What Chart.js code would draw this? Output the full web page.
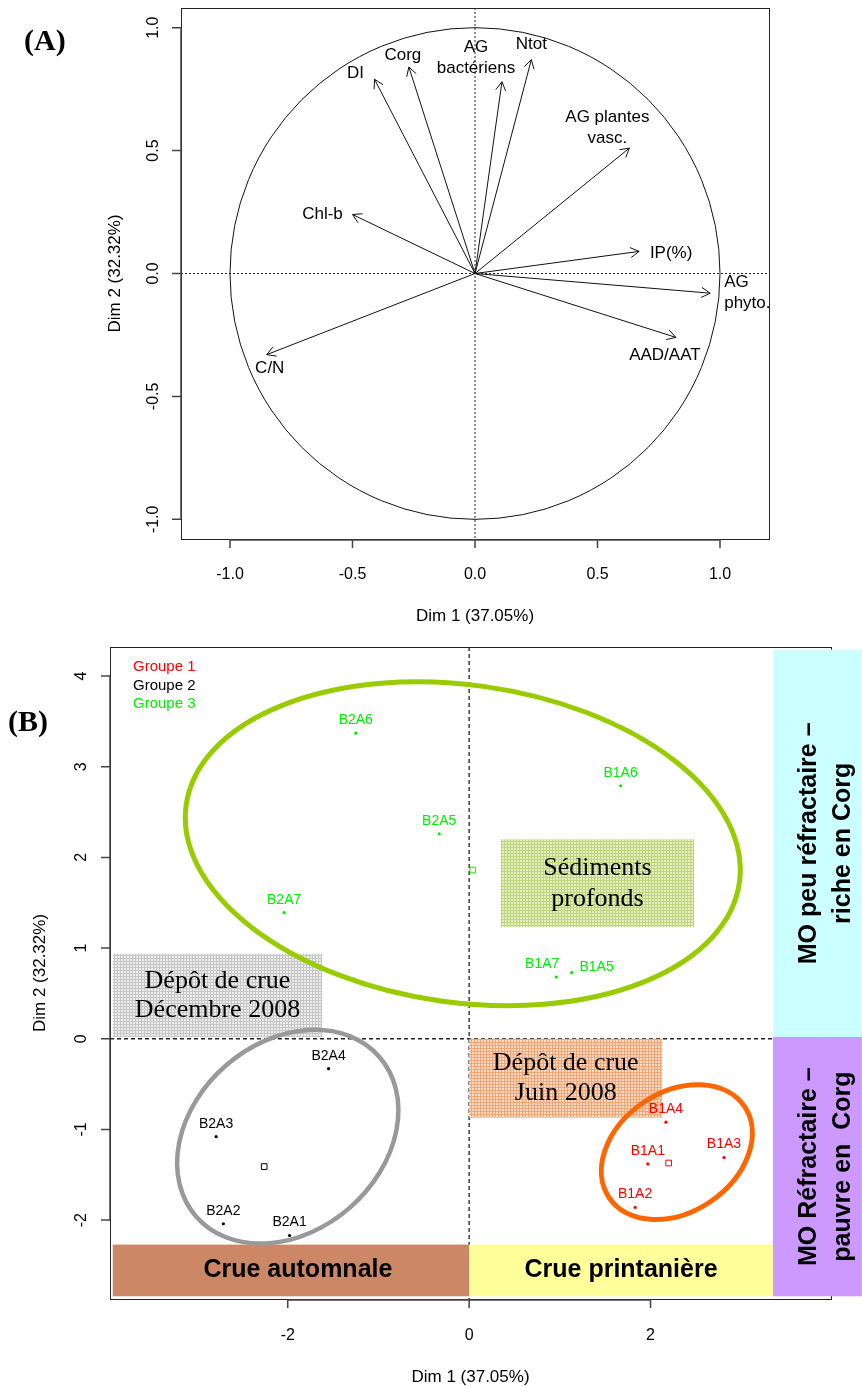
<!DOCTYPE html>
<html>
<head>
<meta charset="utf-8">
<script src="https://cdn.jsdelivr.net/npm/chart.js@4.4.0/dist/chart.umd.min.js"></script>
<style>
  body { margin: 0; background: #fff; }
  #wrap { position: relative; width: 862px; height: 1387px; }
  canvas { position: absolute; left: 0; }
  #chartA { top: 0; }
  #chartB { top: 640px; }
</style>
</head>
<body>
<div id="wrap">
  <canvas id="chartA" width="862" height="640"></canvas>
  <canvas id="chartB" width="862" height="747"></canvas>
</div>
<script>
// ---- (A) correlation circle ----
const varLabels = [['DI'], ['Corg'], ['AG', 'bactériens'], ['Ntot'], ['AG plantes', 'vasc.'], ['IP(%)'], ['AG', 'phyto.'], ['AAD/AAT'], ['Chl-b'], ['C/N']];
const varDim1 = [-0.41, -0.27, 0.11, 0.23, 0.63, 0.67, 0.96, 0.82, -0.50, -0.85];
const varDim2 = [0.79, 0.84, 0.78, 0.87, 0.51, 0.09, -0.08, -0.26, 0.24, -0.33];
const ticksA = [-1.0, -0.5, 0.0, 0.5, 1.0];

// ---- (B) individuals ----
const groupNames = ['Groupe 1', 'Groupe 2', 'Groupe 3'];
const g1Names = ['B1A1', 'B1A2', 'B1A3', 'B1A4'];
const g1Dim1 = [1.97, 1.83, 2.81, 2.17];
const g1Dim2 = [-1.38, -1.86, -1.31, -0.92];
const g2Names = ['B2A1', 'B2A2', 'B2A3', 'B2A4'];
const g2Dim1 = [-1.98, -2.71, -2.79, -1.55];
const g2Dim2 = [-2.17, -2.04, -1.08, -0.33];
const g3Names = ['B1A5', 'B1A6', 'B1A7', 'B2A5', 'B2A6', 'B2A7'];
const g3Dim1 = [1.13, 1.67, 0.96, -0.33, -1.25, -2.04];
const g3Dim2 = [0.73, 2.79, 0.68, 2.26, 3.37, 1.39];
const centroidDim1 = [2.20, -2.26, 0.04];
const centroidDim2 = [-1.37, -1.41, 1.86];
// confidence ellipses: centre, half axes, angle (degrees)
const ellipseDim1 = [2.29, -2.00, -0.07];
const ellipseDim2 = [-1.25, -1.08, 2.15];
const ellipseMajor = [0.90, 1.34, 3.08];
const ellipseMinor = [0.66, 1.04, 1.75];
const ellipseAngle = [34, 41, -8];
const ticksBx = [-2, 0, 2];
const ticksBy = [-2, -1, 0, 1, 2, 3, 4];

const zoneLabels = [['Dépôt de crue', 'Décembre 2008'], ['Sédiments', 'profonds'], ['Dépôt de crue', 'Juin 2008'],
  ['Crue automnale'], ['Crue printanière'], ['MO peu réfractaire –', 'riche en Corg'], ['MO Réfractaire –', 'pauvre en  Corg']];

// ---- styling / layout ----
const SANS = '"Liberation Sans", Arial, sans-serif';
const SERIF = '"Liberation Serif", "Times New Roman", serif';
const groupColors = ['#ff0000', '#000000', '#00ee00'];
const ellipseColors = ['#ff6600', '#999999', '#99cc00'];
const ellipseWidths = [5, 4.5, 5];
// label offsets from arrow tip in px: dx, dy, align
const arrowLabelPos = [[-19, -6, 'center'], [-6, -12, 'center'], [-26, -24, 'center'], [0, -15, 'center'],
  [-22, -20, 'center'], [32, 2, 'center'], [14, 0, 'left'], [-11, 18, 'center'], [-30, 0, 'center'], [3, 14, 'center']];
// point label offsets (px) where labels were pushed apart, keyed by name
const pointLabelShift = { B1A7: [-14, -13], B1A5: [25, -5] };
// zones in data units [x0, x1, y0, y1]
const zones = [
  { box: [-3.93, -1.62, 0.02, 0.94], hatch: ['#ececec', '#c6c6c6'], font: '26px ' + SERIF, lh: 29 },
  { box: [0.35, 2.48, 1.23, 2.20], hatch: ['#e4eebe', '#bdd57c'], font: '26px ' + SERIF, lh: 31 },
  { box: [0.0, 2.13, -0.87, 0.0], hatch: ['#fbdac4', '#f2a676'], font: '26px ' + SERIF, lh: 30 },
  { box: [-3.93, 0.0, -2.84, -2.27], fill: '#cc8866', font: 'bold 25px ' + SANS, dx: 7 },
  { box: [0.0, 3.35, -2.84, -2.27], fill: '#ffff99', font: 'bold 25px ' + SANS },
  { box: [3.35, 4.33, 0.02, 4.29], fill: '#ccffff', font: 'bold 25px ' + SANS, lh: 34, dx: 9, vertical: true },
  { box: [3.35, 4.33, -2.84, 0.02], fill: '#cc99ff', font: 'bold 25px ' + SANS, lh: 34, dx: 9, vertical: true }
];

function drawRAxes(chart, o) {
  const { ctx, chartArea: a, scales: { x, y } } = chart;
  ctx.save();
  ctx.strokeStyle = '#222';
  ctx.lineWidth = 1;
  ctx.strokeRect(a.left + 0.5, a.top + 0.5, a.right - a.left, a.bottom - a.top);
  const xs = o.xTicks.map(v => x.getPixelForValue(v));
  const ys = o.yTicks.map(v => y.getPixelForValue(v));
  ctx.strokeStyle = '#444';
  ctx.lineWidth = 1.5;
  ctx.beginPath();
  ctx.moveTo(xs[0], a.bottom + 1); ctx.lineTo(xs[xs.length - 1], a.bottom + 1);
  xs.forEach(px => { ctx.moveTo(px, a.bottom); ctx.lineTo(px, a.bottom + 9); });
  ctx.moveTo(a.left, ys[0]); ctx.lineTo(a.left, ys[ys.length - 1]);
  ys.forEach(py => { ctx.moveTo(a.left, py); ctx.lineTo(a.left - 9, py); });
  ctx.stroke();
  ctx.fillStyle = '#000';
  ctx.font = '16px ' + SANS;
  ctx.textAlign = 'center';
  ctx.textBaseline = 'middle';
  o.xTicks.forEach((v, i) => ctx.fillText(o.fmt(v), xs[i], a.bottom + o.xGap));
  o.yTicks.forEach((v, i) => {
    ctx.save();
    ctx.translate(a.left - o.yGap, ys[i]);
    ctx.rotate(-Math.PI / 2);
    ctx.fillText(o.fmt(v), 0, 0);
    ctx.restore();
  });
  ctx.font = '17px ' + SANS;
  ctx.fillText('Dim 1 (37.05%)', (a.left + a.right) / 2, a.bottom + o.xTitle);
  ctx.save();
  ctx.translate(a.left - o.yTitle, (a.top + a.bottom) / 2);
  ctx.rotate(-Math.PI / 2);
  ctx.fillText('Dim 2 (32.32%)', 0, 0);
  ctx.restore();
  ctx.font = 'bold 30px ' + SERIF;
  ctx.textAlign = 'left';
  ctx.fillText(o.tag, o.tagX, o.tagY);
  ctx.restore();
}

function dottedCross(chart, dash, width) {
  const { ctx, chartArea: a, scales: { x, y } } = chart;
  const x0 = x.getPixelForValue(0), y0 = y.getPixelForValue(0);
  ctx.save();
  ctx.strokeStyle = '#222';
  ctx.lineWidth = width;
  ctx.setLineDash(dash);
  ctx.beginPath();
  ctx.moveTo(a.left, y0); ctx.lineTo(a.right, y0);
  ctx.moveTo(x0, a.top); ctx.lineTo(x0, a.bottom);
  ctx.stroke();
  ctx.restore();
}

// ---------- chart A ----------
const circlePlugin = {
  id: 'circleA',
  beforeDatasetsDraw(chart) {
    const { ctx, scales: { x, y } } = chart;
    dottedCross(chart, [2, 2], 1);
    const cx = x.getPixelForValue(0), cy = y.getPixelForValue(0);
    ctx.save();
    ctx.strokeStyle = '#111';
    ctx.lineWidth = 1;
    ctx.beginPath();
    ctx.ellipse(cx, cy, x.getPixelForValue(1) - cx, cy - y.getPixelForValue(1), 0, 0, Math.PI * 2);
    ctx.stroke();
    ctx.restore();
  },
  afterDatasetsDraw(chart) {
    const { ctx, scales: { x, y } } = chart;
    const ox = x.getPixelForValue(0), oy = y.getPixelForValue(0);
    ctx.save();
    ctx.strokeStyle = '#111';
    ctx.fillStyle = '#000';
    ctx.lineWidth = 1;
    ctx.font = '17px ' + SANS;
    ctx.textBaseline = 'middle';
    varDim1.forEach((v, i) => {
      const tx = x.getPixelForValue(v), ty = y.getPixelForValue(varDim2[i]);
      const ang = Math.atan2(ty - oy, tx - ox);
      ctx.beginPath();
      [-1, 1].forEach(s => {
        ctx.moveTo(tx, ty);
        ctx.lineTo(tx - 10 * Math.cos(ang + s * Math.PI / 6), ty - 10 * Math.sin(ang + s * Math.PI / 6));
      });
      ctx.stroke();
      const [dx, dy, align] = arrowLabelPos[i];
      const lines = varLabels[i];
      ctx.textAlign = align;
      lines.forEach((t, k) => ctx.fillText(t, tx + dx, ty + dy + (k - (lines.length - 1) / 2) * 21));
    });
    drawRAxes(chart, { xTicks: ticksA, yTicks: ticksA, fmt: v => v.toFixed(1), xGap: 36, yGap: 27, xTitle: 77, yTitle: 66, tag: '(A)', tagX: 24, tagY: 42 });
    ctx.restore();
  }
};

new Chart(document.getElementById('chartA'), {
  type: 'scatter',
  data: {
    datasets: varDim1.map((v, i) => ({
      label: varLabels[i].join(' '),
      data: [{ x: 0, y: 0 }, { x: v, y: varDim2[i] }],
      showLine: true,
      borderColor: '#111',
      borderWidth: 1,
      pointRadius: 0
    }))
  },
  options: {
    responsive: false,
    animation: false,
    events: [],
    layout: { padding: { left: 181, top: 8, right: 93, bottom: 101 } },
    scales: {
      x: { type: 'linear', min: -1.2, max: 1.2, display: false },
      y: { type: 'linear', min: -1.08, max: 1.08, display: false }
    },
    plugins: { legend: { display: false }, tooltip: { enabled: false } }
  },
  plugins: [circlePlugin]
});

// ---------- chart B ----------
function hatch(ctx, base, line) {
  const c = document.createElement('canvas');
  c.width = 3; c.height = 3;
  const g = c.getContext('2d');
  g.fillStyle = base; g.fillRect(0, 0, 3, 3);
  g.fillStyle = line; g.fillRect(0, 0, 3, 1); g.fillRect(0, 0, 1, 3);
  return ctx.createPattern(c, 'repeat');
}

const groupPointNames = [g1Names, g2Names, g3Names];

const zonesPlugin = {
  id: 'zonesB',
  beforeDatasetsDraw(chart) {
    const { ctx, scales: { x, y } } = chart;
    drawRAxes(chart, { xTicks: ticksBx, yTicks: ticksBy, fmt: v => String(v), xGap: 37, yGap: 28, xTitle: 78, yTitle: 70, tag: '(B)', tagX: 8, tagY: 83 });
    dottedCross(chart, [4, 3], 1.3);
    ctx.save();
    zones.forEach((z, i) => {
      const [x0, x1, y0, y1] = z.box;
      const px0 = x.getPixelForValue(x0), px1 = x.getPixelForValue(x1);
      const py0 = y.getPixelForValue(y1), py1 = y.getPixelForValue(y0);
      ctx.fillStyle = z.fill || hatch(ctx, z.hatch[0], z.hatch[1]);
      ctx.fillRect(px0, py0, px1 - px0, py1 - py0);
      const cx = (px0 + px1) / 2 + (z.dx || 0), cy = (py0 + py1) / 2;
      const lines = zoneLabels[i];
      ctx.fillStyle = '#000';
      ctx.font = z.font;
      ctx.textAlign = 'center';
      ctx.textBaseline = 'middle';
      ctx.save();
      ctx.translate(cx, cy);
      if (z.vertical) ctx.rotate(-Math.PI / 2);
      lines.forEach((t, k) => ctx.fillText(t, 0, (k - (lines.length - 1) / 2) * (z.lh || 0)));
      ctx.restore();
    });
    ellipseDim1.forEach((v, i) => {
      const cx = x.getPixelForValue(v), cy = y.getPixelForValue(ellipseDim2[i]);
      const rx = x.getPixelForValue(v + ellipseMajor[i]) - cx;
      const ry = cy - y.getPixelForValue(ellipseDim2[i] + ellipseMinor[i]);
      ctx.strokeStyle = ellipseColors[i];
      ctx.lineWidth = ellipseWidths[i];
      ctx.beginPath();
      ctx.ellipse(cx, cy, rx, ry, -ellipseAngle[i] * Math.PI / 180, 0, Math.PI * 2);
      ctx.stroke();
    });
    ctx.restore();
  },
  afterDatasetsDraw(chart) {
    const { ctx, chartArea: a } = chart;
    ctx.save();
    ctx.font = '14px ' + SANS;
    ctx.textAlign = 'center';
    ctx.textBaseline = 'middle';
    groupPointNames.forEach((names, d) => {
      const meta = chart.getDatasetMeta(d);
      ctx.fillStyle = groupColors[d];
      meta.data.forEach((el, i) => {
        const [dx, dy] = pointLabelShift[names[i]] || [0, -13];
        ctx.fillText(names[i], el.x + dx, el.y + dy);
      });
    });
    ctx.font = '15px ' + SANS;
    ctx.textAlign = 'left';
    groupNames.forEach((g, i) => {
      ctx.fillStyle = groupColors[i];
      ctx.fillText(g, a.left + 23, a.top + 20 + i * 18.5);
    });
    ctx.restore();
  }
};

const pointSets = [[g1Dim1, g1Dim2], [g2Dim1, g2Dim2], [g3Dim1, g3Dim2]].map(([xs, ys], d) => ({
  label: groupNames[d],
  data: xs.map((v, i) => ({ x: v, y: ys[i] })),
  pointRadius: 1.6,
  pointBackgroundColor: groupColors[d],
  pointBorderColor: groupColors[d],
  pointBorderWidth: 0
}));

new Chart(document.getElementById('chartB'), {
  type: 'scatter',
  data: {
    datasets: [...pointSets, {
      label: 'centres',
      data: centroidDim1.map((v, i) => ({ x: v, y: centroidDim2[i] })),
      pointStyle: 'rect',
      pointRadius: 4,
      pointBackgroundColor: 'rgba(0,0,0,0)',
      pointBorderColor: groupColors,
      pointBorderWidth: 1
    }]
  },
  options: {
    responsive: false,
    animation: false,
    events: [],
    layout: { padding: { left: 110, top: 7, right: 31, bottom: 88 } },
    scales: {
      x: { type: 'linear', min: -3.96, max: 3.99, display: false },
      y: { type: 'linear', min: -2.87, max: 4.32, display: false }
    },
    plugins: { legend: { display: false }, tooltip: { enabled: false } }
  },
  plugins: [zonesPlugin]
});
</script>
</body>
</html>
